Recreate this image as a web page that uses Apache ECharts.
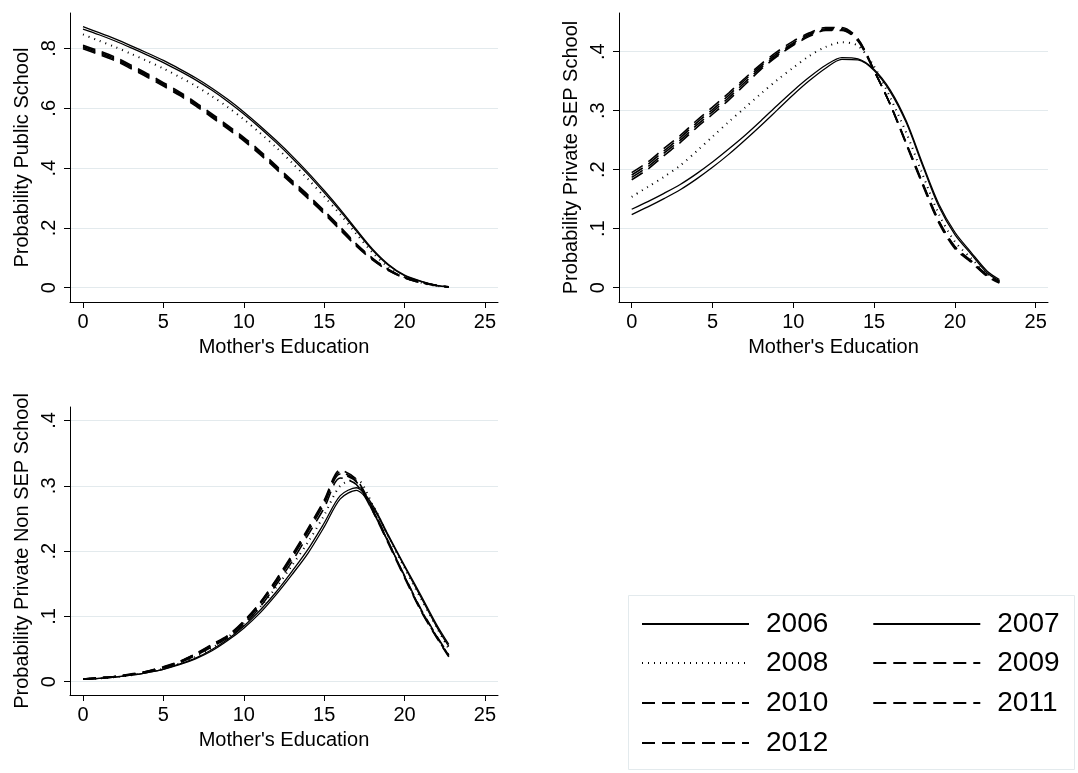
<!DOCTYPE html>
<html><head><meta charset="utf-8">
<script src="https://cdn.jsdelivr.net/npm/echarts@6/dist/echarts.min.js"></script>
<style>html,body{margin:0;padding:0;background:#fff}#c{width:1078px;height:773px}</style>
</head><body><div id="c"></div>
<script>
// ---------- data ----------
const educ = [0,1,2,3,4,5,6,7,8,9,10,11,12,13,14,15,16,17,18,19,20,21,22,22.75];
const years = ['2006','2007','2008','2009','2010','2011','2012'];
const xTicks = [0,5,10,15,20,25];
const yTicksPublic = [0,0.2,0.4,0.6,0.8];
const yTicksSEP = [0,0.1,0.2,0.3,0.4];
const yTicksNonSEP = [0,0.1,0.2,0.3,0.4];
const xTitle = "Mother's Education";
const yTitles = ['Probability Public School','Probability Private SEP School','Probability Private Non SEP School'];

// Probability Public School
const public2006 = [.873,.853,.832,.809,.785,.760,.732,.702,.668,.630,.588,.542,.493,.441,.385,.325,.262,.195,.130,.078,.042,.022,.008,.003];
const public2007 = [.865,.846,.825,.802,.778,.753,.725,.695,.661,.623,.581,.535,.486,.434,.378,.318,.256,.190,.126,.075,.040,.021,.007,.003];
const public2008 = [.847,.826,.805,.782,.758,.733,.705,.675,.641,.604,.563,.518,.470,.418,.363,.305,.245,.180,.118,.068,.035,.017,.006,.002];
const public2009 = [.811,.792,.771,.744,.716,.686,.655,.620,.582,.543,.503,.458,.409,.359,.310,.258,.203,.147,.099,.061,.035,.019,.008,.003];
const public2010 = [.807,.788,.767,.740,.712,.682,.651,.616,.578,.539,.499,.454,.405,.355,.306,.255,.200,.145,.097,.060,.034,.018,.008,.003];
const public2011 = [.803,.784,.763,.736,.708,.678,.647,.612,.574,.535,.495,.450,.401,.351,.302,.251,.196,.141,.095,.058,.033,.017,.007,.002];
const public2012 = [.799,.780,.759,.732,.704,.674,.643,.608,.570,.531,.491,.446,.397,.347,.298,.247,.193,.139,.093,.057,.032,.017,.007,.002];

// Probability Private SEP School
const sep2006 = [.133,.146,.160,.175,.193,.213,.235,.258,.283,.309,.334,.357,.377,.390,.388,.370,.335,.282,.210,.142,.094,.060,.028,.014];
const sep2007 = [.124,.137,.151,.166,.184,.204,.226,.250,.275,.301,.327,.351,.372,.387,.386,.368,.332,.279,.207,.138,.090,.057,.025,.012];
const sep2008 = [.154,.171,.188,.207,.231,.256,.281,.305,.329,.352,.373,.393,.408,.416,.410,.375,.322,.262,.192,.125,.078,.050,.023,.011];
const sep2009 = [.195,.213,.236,.258,.283,.306,.330,.355,.379,.400,.418,.432,.441,.441,.422,.369,.310,.242,.174,.110,.066,.043,.019,.008];
const sep2010 = [.191,.209,.232,.254,.279,.302,.326,.352,.376,.397,.415,.430,.439,.439,.421,.368,.310,.243,.176,.112,.068,.044,.020,.009];
const sep2011 = [.187,.205,.228,.250,.275,.298,.322,.348,.373,.394,.413,.428,.437,.437,.419,.368,.311,.244,.177,.113,.069,.045,.021,.010];
const sep2012 = [.183,.201,.224,.246,.271,.294,.318,.344,.370,.392,.411,.426,.436,.436,.418,.367,.311,.245,.178,.114,.070,.046,.022,.010];

// Probability Private Non SEP School
const nonsep2006 = [.004,.005,.007,.010,.014,.019,.026,.035,.047,.063,.082,.105,.133,.164,.197,.237,.280,.293,.268,.222,.176,.130,.084,.054];
const nonsep2007 = [.004,.005,.007,.010,.014,.019,.027,.036,.049,.065,.085,.109,.137,.169,.203,.243,.285,.297,.271,.224,.178,.133,.087,.057];
const nonsep2008 = [.004,.005,.007,.010,.015,.020,.028,.038,.051,.068,.089,.114,.144,.178,.214,.255,.300,.310,.272,.222,.174,.128,.083,.050];
const nonsep2009 = [.004,.006,.008,.011,.016,.023,.031,.043,.057,.071,.093,.121,.156,.194,.235,.278,.324,.310,.266,.214,.161,.110,.068,.039];
const nonsep2010 = [.004,.006,.008,.011,.016,.022,.030,.042,.055,.069,.090,.118,.152,.189,.230,.272,.318,.306,.264,.213,.161,.111,.069,.040];
const nonsep2011 = [.004,.005,.008,.011,.015,.021,.029,.040,.053,.067,.087,.114,.148,.184,.225,.266,.312,.302,.262,.213,.162,.112,.070,.041];
const nonsep2012 = [.004,.006,.008,.012,.016,.022,.031,.042,.056,.070,.092,.120,.155,.192,.233,.276,.321,.307,.262,.211,.159,.109,.067,.038];

const panels = [
  [public2006,public2007,public2008,public2009,public2010,public2011,public2012],
  [sep2006,sep2007,sep2008,sep2009,sep2010,sep2011,sep2012],
  [nonsep2006,nonsep2007,nonsep2008,nonsep2009,nonsep2010,nonsep2011,nonsep2012]
];
const yTickSets = [yTicksPublic, yTicksSEP, yTicksNonSEP];

// ---------- styles / layout ----------
const FONT = 'Liberation Sans, Arial, Helvetica, sans-serif';
const GRIDC = '#e3eaed';
const lineStyles = {
  '2006': {type:'solid', width:1.3},
  '2007': {type:'solid', width:1.3},
  '2008': {type:[1,5], width:2, cap:'butt'},
  '2009': {type:[13,7], width:1.6},
  '2010': {type:[13,7], width:1.6},
  '2011': {type:[13,7], width:1.6},
  '2012': {type:[13,7], width:1.6}
};
const grids = [
  {left:70, top:13, width:428, height:289},
  {left:619, top:13, width:429, height:289},
  {left:70, top:407, width:428, height:288}
];
const xRanges = [[-0.808,25.81],[-0.786,25.76],[-0.808,25.81]];
const yRanges = [[-0.0478,0.9187],[-0.0242,0.4656],[-0.0204,0.4207]];

const fmt = v => v === 0 ? '0' : String(+v.toFixed(3)).replace(/^0\./, '.');

const xAxes = grids.map((g,i) => ({
  type:'value', gridIndex:i, min:xRanges[i][0], max:xRanges[i][1],
  name:xTitle, nameLocation:'middle', nameGap:35,
  nameTextStyle:{fontFamily:FONT, fontSize:20, color:'#000'},
  axisLine:{show:true, onZero:false, lineStyle:{color:'#000', width:1}},
  axisTick:{show:true, length:6, customValues:xTicks, lineStyle:{color:'#000'}},
  axisLabel:{customValues:xTicks, fontFamily:FONT, fontSize:20, color:'#000', margin:10, formatter:fmt},
  splitLine:{show:false}
}));
const yAxes = grids.map((g,i) => ({
  type:'value', gridIndex:i, min:yRanges[i][0], max:yRanges[i][1],
  name:yTitles[i], nameLocation:'middle', nameGap:38,
  nameTextStyle:{fontFamily:FONT, fontSize:20, color:'#000'},
  axisLine:{show:true, onZero:false, lineStyle:{color:'#000', width:1}},
  axisTick:{show:true, length:6, customValues:yTickSets[i], lineStyle:{color:'#000'}},
  axisLabel:{customValues:yTickSets[i], rotate:90, fontFamily:FONT, fontSize:20, color:'#000', margin:11, formatter:fmt},
  splitLine:{show:true, lineStyle:{color:GRIDC, width:1}}
}));

const series = [];
panels.forEach((arrs,pi) => {
  arrs.forEach((arr,yi) => {
    series.push({
      type:'line', name:years[yi], xAxisIndex:pi, yAxisIndex:pi,
      data: educ.map((x,k) => [x, arr[k]]),
      symbol:'none', smooth:0.3,
      color:'#000',
      lineStyle:Object.assign({color:'#000'}, lineStyles[years[yi]]),
      emphasis:{disabled:true}, silent:true
    });
  });
});

const legendRows = [['2006','2007'],['2008','2009'],['2010','2011'],['2012']];
const rowCenters = [623,662,702,742];
const legends = legendRows.map((row,ri) => ({
  data:row, left:641, top:rowCenters[ri]-13, orient:'horizontal',
  padding:0, itemWidth:107, itemHeight:14, itemGap:44, selectedMode:false,
  itemStyle:{opacity:0},
  textStyle:{fontFamily:FONT, fontSize:28, color:'#000', padding:[0,0,0,12]}
}));

const chart = echarts.init(document.getElementById('c'), null, {renderer:'canvas'});
chart.setOption({
  animation:false,
  backgroundColor:'#fff',
  grid:grids,
  xAxis:xAxes,
  yAxis:yAxes,
  legend:legends,
  graphic:[{type:'rect', z:-1, shape:{x:628.5, y:595.5, width:446, height:174},
    style:{fill:'#fff', stroke:GRIDC, lineWidth:1}}],
  series:series
});
</script></body></html>
